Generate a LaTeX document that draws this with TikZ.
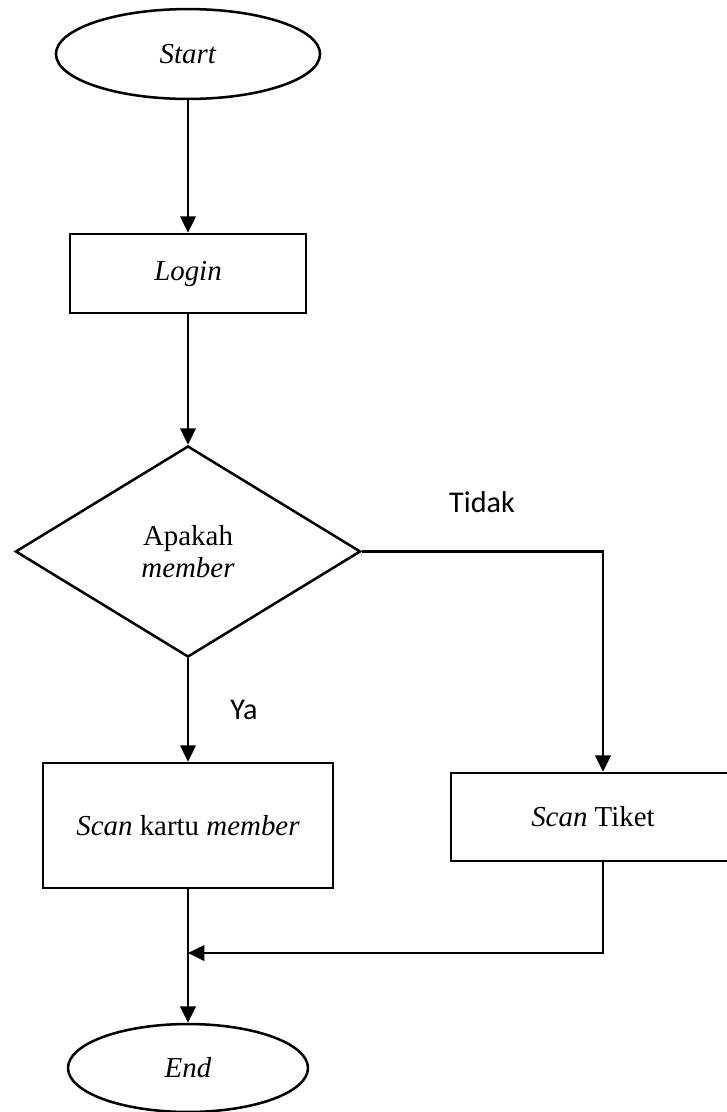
\documentclass[tikz,border=0pt]{standalone}
\usepackage{fontspec}
\setmainfont{Liberation Serif}
\newfontfamily\labelfont{Carlito}
\usetikzlibrary{shapes.geometric,arrows.meta}
\begin{document}
\begin{tikzpicture}[x=0.415pt,y=-0.415pt,
  every node/.style={font=\fontsize{12}{13.5}\selectfont},
  flow/.style={draw,line width=1.05pt,inner sep=0pt},
  terminal/.style={flow,ellipse},
  process/.style={flow,rectangle},
  decision/.style={flow,diamond,align=center},
  link/.style={line width=1.05pt,-{Triangle[length=6.8pt,width=6.4pt]}},
  branch/.style={font=\labelfont\fontsize{12.5}{15}\selectfont}]
\useasboundingbox (0,0) rectangle (727,1112);

% flow chart nodes
\node[terminal,minimum width=109.6pt,minimum height=37.3pt] (start) at (188,54) {\textit{Start}};
\node[process,minimum width=97.9pt,minimum height=32.8pt] (login) at (188,273.5) {\textit{Login}};
\node[decision,minimum width=143.2pt,minimum height=87.6pt] (member) at (188,551.5) {Apakah\\\textit{member}};
\node[process,minimum width=120.3pt,minimum height=51.9pt] (kartu) at (188,825.5) {\textit{Scan} kartu \textit{member}};
\node[process,minimum width=117.9pt,minimum height=36.5pt] (tiket) at (593,817) {\textit{Scan} Tiket};
\node[terminal,minimum width=99.6pt,minimum height=36.5pt] (end) at (188,1068) {\textit{End}};

% branch labels
\node[branch] (tidak) at (482,502) {Tidak};
\node[branch] (ya) at (244,710) {Ya};

% connectors
\coordinate (join) at (188,953);
\draw[link] (start.south) -- (login.north);
\draw[link] (login.south) -- (member.north);
\draw[link] (member.south) -- (kartu.north);
\draw[link] (member.east) -| ([xshift=4.15pt]tiket.north);
\draw[link] ([xshift=4.15pt]tiket.south) |- (join);
\draw[link] (kartu.south) -- (end.north);
\end{tikzpicture}
\end{document}
